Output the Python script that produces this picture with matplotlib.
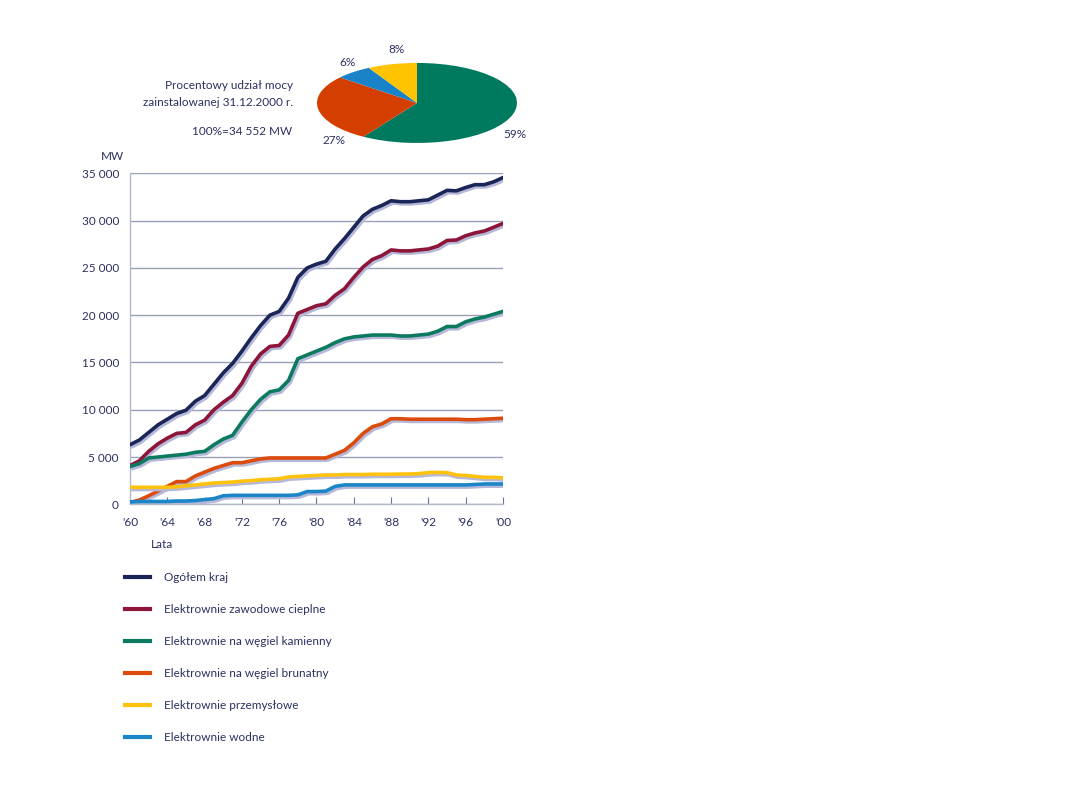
import matplotlib
matplotlib.use("Agg")
import matplotlib.pyplot as plt
import matplotlib.patheffects as pe
from matplotlib.lines import Line2D
from matplotlib.ticker import FuncFormatter

plt.rcParams['font.family'] = ['Lato', 'DejaVu Sans']

years = list(range(1960, 2001))

ogolem = [6300, 6800, 7600, 8400, 9000, 9600, 9950, 10900, 11500, 12700,
          13900, 14900, 16200, 17600, 18900, 20000, 20400, 21800, 24000, 25000,
          25400, 25700, 27000, 28100, 29300, 30500, 31200, 31600, 32100, 32000,
          32000, 32100, 32200, 32700, 33200, 33150, 33500, 33800, 33800, 34100,
          34552]
zawodowe = [4100, 4600, 5600, 6400, 7000, 7500, 7600, 8400, 8900, 10000,
            10800, 11500, 12800, 14600, 15900, 16700, 16800, 17900, 20200, 20600,
            21000, 21200, 22100, 22800, 24000, 25100, 25900, 26300, 26900, 26800,
            26800, 26900, 27000, 27300, 27900, 27950, 28400, 28700, 28900, 29300,
            29700]
kamienny = [4000, 4300, 4900, 5000, 5100, 5200, 5300, 5500, 5600, 6300,
            6900, 7300, 8700, 10000, 11100, 11900, 12100, 13100, 15400, 15800,
            16200, 16600, 17100, 17500, 17700, 17800, 17900, 17900, 17900, 17800,
            17800, 17900, 18000, 18300, 18800, 18800, 19300, 19600, 19800, 20100,
            20400]
brunatny = [200, 450, 900, 1400, 1900, 2400, 2400, 3000, 3400, 3800,
            4100, 4400, 4400, 4600, 4800, 4900, 4900, 4900, 4900, 4900,
            4900, 4900, 5300, 5700, 6500, 7500, 8200, 8500, 9050, 9050,
            9000, 9000, 9000, 9000, 9000, 9000, 8950, 8950, 9000, 9050,
            9100]
przemyslowe = [1800, 1800, 1800, 1800, 1800, 1850, 1950, 2050, 2150, 2250,
               2300, 2350, 2450, 2500, 2600, 2650, 2700, 2900, 2950, 3000,
               3050, 3100, 3100, 3150, 3150, 3150, 3180, 3180, 3180, 3200,
               3200, 3250, 3350, 3380, 3350, 3100, 3050, 2950, 2850, 2850,
               2800]
wodne = [250, 300, 300, 300, 300, 350, 350, 400, 500, 600,
         900, 950, 950, 950, 950, 950, 950, 950, 1000, 1350,
         1350, 1400, 1900, 2050, 2050, 2050, 2050, 2050, 2050, 2050,
         2050, 2050, 2050, 2050, 2050, 2050, 2050, 2100, 2150, 2150,
         2150]

names = ["Ogółem kraj", "Elektrownie zawodowe cieplne", "Elektrownie na węgiel kamienny",
         "Elektrownie na węgiel brunatny", "Elektrownie przemysłowe", "Elektrownie wodne"]
series = [ogolem, zawodowe, kamienny, brunatny, przemyslowe, wodne]
colors = ["#1b2557", "#8c1538", "#0b7a5f", "#dc4a0c", "#ffc20e", "#1a86c8"]

pie_values = [59, 27, 6, 8]
pie_labels = ["59%", "27%", "6%", "8%"]
pie_colors = ["#007a5e", "#d43f00", "#1a82c8", "#ffc300"]

text_color = "#2b3060"
grid_color = "#98a1b6"

fig = plt.figure(figsize=(10.8, 8.1), dpi=100)

# main line chart
ax = fig.add_axes([0.1204, 0.3774, 0.3453, 0.4086])
shadow = [pe.SimpleLineShadow(offset=(1.2, -1.6), shadow_color="#b5b8d8", alpha=1), pe.Normal()]
for vals, c in zip(series, colors):
    ax.plot(years, vals, color=c, lw=2.6, solid_capstyle="round",
            solid_joinstyle="round", path_effects=shadow, zorder=3)

ax.set_xlim(1960, 2000)
ax.set_ylim(0, 35000)
ax.set_yticks(range(0, 35001, 5000))
ax.yaxis.set_major_formatter(FuncFormatter(lambda v, p: f"{v:,.0f}".replace(",", " ")))
ax.set_xticks(range(1960, 2001, 4))
ax.set_xticklabels(["'" + str(y)[2:] for y in range(1960, 2001, 4)])
ax.grid(axis="y", color=grid_color, lw=1.0, zorder=0)
for s in ["top", "right"]:
    ax.spines[s].set_visible(False)
for s in ["left", "bottom"]:
    ax.spines[s].set_color("#b4bccb")
    ax.spines[s].set_linewidth(1.0)
ax.tick_params(axis="y", length=0, pad=8, labelsize=8.5, labelcolor=text_color)
ax.tick_params(axis="x", direction="in", length=5, color="#6b7594", pad=9,
               labelsize=8.5, labelcolor=text_color)
ax.text(-0.078, 1.035, "MW", transform=ax.transAxes, ha="left", va="bottom",
        fontsize=8.5, color=text_color)
ax.text(0.085, -0.105, "Lata", transform=ax.transAxes, ha="center", va="top",
        fontsize=8.5, color=text_color)

# legend
handles = [Line2D([], [], color=c, lw=3) for c in colors]
fig.legend(handles, names, loc="upper left", bbox_to_anchor=(0.106, 0.307), frameon=False,
           fontsize=8.5, labelcolor=text_color, handlelength=2.1, handletextpad=1.2,
           labelspacing=1.78)

# pie
pax = fig.add_axes([0.2935, 0.8235, 0.1852, 0.0988])
pax.pie(pie_values, colors=pie_colors, startangle=90, counterclock=False,
        wedgeprops=dict(linewidth=0))
pax.set_aspect("auto")
pax.set_xlim(-1, 1)
pax.set_ylim(-1, 1)

label_pos = [(0.98, -0.78), (-0.83, -0.95), (-0.69, 1.0), (-0.2, 1.33)]
for lab, (lx, ly) in zip(pie_labels, label_pos):
    pax.text(lx, ly, lab, ha="center", va="center", fontsize=8.5, color=text_color)

fig.text(0.2713, 0.895, "Procentowy udział mocy", ha="right", va="center",
         fontsize=8.5, color=text_color)
fig.text(0.2713, 0.874, "zainstalowanej 31.12.2000 r.", ha="right", va="center",
         fontsize=8.5, color=text_color)
fig.text(0.2705, 0.838, "100%=34 552 MW", ha="right", va="center",
         fontsize=8.5, color=text_color)

fig.savefig("out.png", dpi=100)
